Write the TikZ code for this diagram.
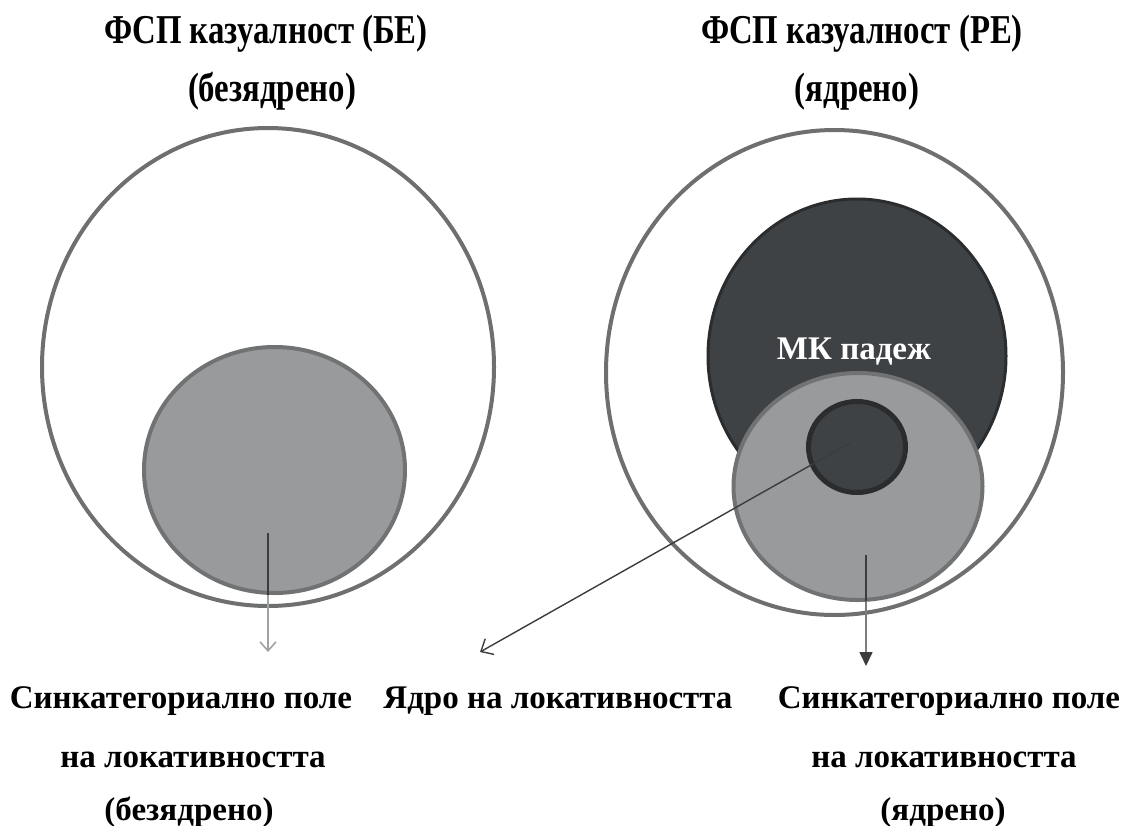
\documentclass[tikz,border=0pt]{standalone}
\usepackage{fontspec}
\setmainfont{Liberation Serif}
\newfontfamily\condf[FakeStretch=0.8]{Liberation Serif}
\usetikzlibrary{shapes.geometric,arrows.meta}
\definecolor{ringc}{HTML}{6E6F70}
\definecolor{grayfill}{HTML}{989A9B}
\definecolor{grayedge}{HTML}{707273}
\definecolor{darkfill}{HTML}{3F4245}
\definecolor{darkedge}{HTML}{2A2C2E}
\definecolor{lightarrow}{HTML}{A0A2A3}
\definecolor{midarrow}{HTML}{7C7E80}
\definecolor{darkarrow}{HTML}{3A3C3E}
\tikzset{
  ring/.style={ellipse, draw=ringc, line width=4pt, fill=white, inner sep=0pt},
  graydisc/.style={ellipse, draw=grayedge, line width=4pt, fill=grayfill, inner sep=0pt},
  darkdisc/.style={ellipse, draw=darkedge, line width=3pt, fill=darkfill, inner sep=0pt},
  coredisc/.style={ellipse, draw=darkedge, line width=5pt, fill=darkfill, inner sep=0pt},
  title/.style={font=\condf\bfseries\fontsize{41}{44}\selectfont, anchor=base, inner sep=0pt},
  label/.style={font=\bfseries\fontsize{33}{36}\selectfont, anchor=base, inner sep=0pt},
}
\begin{document}
\begin{tikzpicture}[x=1pt,y=-1pt]
\useasboundingbox (0,0) rectangle (1130,825);
% left diagram
\node[ring, minimum width=452pt, minimum height=478pt] (outerL) at (268,367) {};
\node[graydisc, minimum width=261pt, minimum height=246pt] (grayL) at (274.5,470) {};
% right diagram
\node[ring, minimum width=457pt, minimum height=485pt] (outerR) at (834.5,372.5) {};
\node[darkdisc, minimum width=298pt, minimum height=314pt] (darkR) at (857,356) {};
\node[graydisc, minimum width=249pt, minimum height=227pt] (grayR) at (858,486.5) {};
\node[coredisc, minimum width=97pt, minimum height=91pt] (coreR) at (857,447) {};
\node[font=\bfseries\fontsize{33}{36}\selectfont, text=white, inner sep=0pt] (mk) at (854,352) {МК падеж};
% arrow coordinates
\coordinate (aLs) at (268,533);
\coordinate (aLe) at (268,652);
\coordinate (aRs) at (866,555);
\coordinate (aRe) at (866,666);
\coordinate (aDs) at (850,443);
\coordinate (aDe) at (480,652);
% left arrow
\draw[lightarrow, line width=1.6pt, -{Straight Barb[length=9pt,width=16pt]}] (aLs) -- (aLe);
\begin{scope}
\clip (274.5,470) ellipse [x radius=132pt, y radius=125pt];
\draw[darkarrow, line width=2.2pt] (aLs) -- (aLe);
\end{scope}
% right arrow
\draw[midarrow, line width=1.6pt, -{Triangle[length=14pt,width=13pt,color=darkarrow,fill=darkarrow]}] (aRs) -- (aRe);
\begin{scope}
\clip (858,486.5) ellipse [x radius=126pt, y radius=115pt];
\draw[darkarrow, line width=2pt] (aRs) -- (aRe);
\end{scope}
% diagonal arrow
\draw[darkarrow, line width=1.4pt, -{Straight Barb[length=10pt,width=18pt]}] (aDs) -- (aDe);
% titles
\node[title] (t1) at (266,43) {ФСП казуалност (БЕ)};
\node[title] (t1b) at (272,101) {(безядрено)};
\node[title] (t2) at (862,43) {ФСП казуалност (РЕ)};
\node[title] (t2b) at (857,101) {(ядрено)};
% bottom labels
\node[label] (b1) at (181,708) {Синкатегориално поле};
\node[label] (b1b) at (193,767) {на локативността};
\node[label] (b1c) at (189,820) {(безядрено)};
\node[label] (b2) at (558,708) {Ядро на локативността};
\node[label] (b3) at (949,708) {Синкатегориално поле};
\node[label] (b3b) at (944,767) {на локативността};
\node[label] (b3c) at (943,820) {(ядрено)};
\end{tikzpicture}
\end{document}
